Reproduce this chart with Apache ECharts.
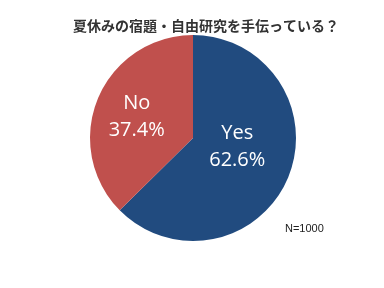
<!DOCTYPE html>
<html><head><meta charset="utf-8">
<script src="https://cdn.jsdelivr.net/npm/echarts@6/dist/echarts.min.js"></script>
<style>html,body{margin:0;padding:0;background:#fff}#c{width:384px;height:288px}</style>
</head><body><div id="c"></div>
<script>
const title = '夏休みの宿題・自由研究を手伝っている？';
const categories = ['Yes', 'No'];
const values = [62.6, 37.4];
const colors = ['#214b7f', '#c0504d'];
const note = 'N=1000';
const labelShift = [[-6, -12], [-6, 0]];

const chart = echarts.init(document.getElementById('c'), null, {renderer: 'canvas'});
chart.setOption({
  animation: false,
  backgroundColor: '#fff',
  title: {
    text: title, left: 201, top: 14, textAlign: 'center',
    textStyle: {fontFamily: 'Noto Sans CJK JP', fontSize: 14, fontWeight: 'bold', color: '#333'}
  },
  graphic: [{
    type: 'text', left: 285, top: 223,
    style: {text: note, fontFamily: 'Liberation Sans', fontSize: 11, fill: '#222'}
  }],
  series: [{
    type: 'pie',
    center: [193, 138],
    radius: [0, 103],
    startAngle: 90,
    clockwise: true,
    data: categories.map((c, i) => ({name: c, value: values[i], itemStyle: {color: colors[i]}})),
    label: {
      position: 'inner',
      formatter: p => p.name + '\n' + p.value.toFixed(1) + '%',
      color: '#fff', fontSize: 20, lineHeight: 27,
      fontFamily: 'Open Sans'
    },
    labelLayout: p => ({dx: labelShift[p.dataIndex][0], dy: labelShift[p.dataIndex][1]}),
    labelLine: {show: false},
    emphasis: {disabled: true}
  }]
});
</script></body></html>
